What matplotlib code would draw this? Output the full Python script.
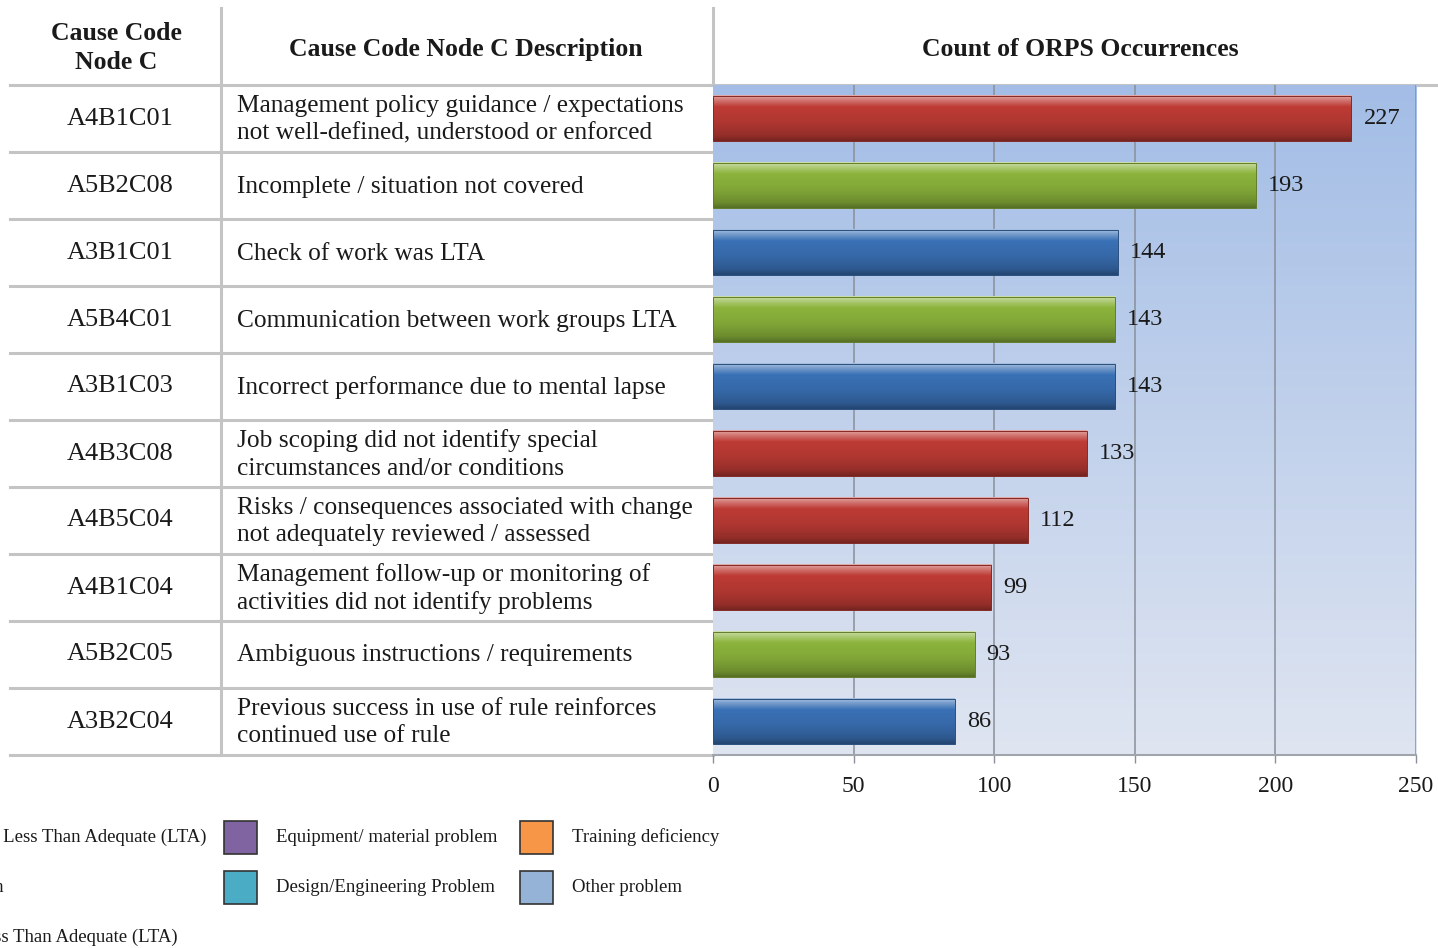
import numpy as np
import matplotlib.pyplot as plt
from matplotlib.colors import to_rgb
from matplotlib.patches import Rectangle

codes = ["A4B1C01", "A5B2C08", "A3B1C01", "A5B4C01", "A3B1C03",
         "A4B3C08", "A4B5C04", "A4B1C04", "A5B2C05", "A3B2C04"]
descriptions = [
    "Management policy guidance / expectations\nnot well-defined, understood or enforced",
    "Incomplete / situation not covered",
    "Check of work was LTA",
    "Communication between work groups LTA",
    "Incorrect performance due to mental lapse",
    "Job scoping did not identify special\ncircumstances and/or conditions",
    "Risks / consequences associated with change\nnot adequately reviewed / assessed",
    "Management follow-up or monitoring of\nactivities did not identify problems",
    "Ambiguous instructions / requirements",
    "Previous success in use of rule reinforces\ncontinued use of rule",
]
counts = [227, 193, 144, 143, 143, 133, 112, 99, 93, 86]
groups = ["mgmt", "comm", "human", "comm", "human",
          "mgmt", "mgmt", "mgmt", "comm", "human"]
xticks = [0, 50, 100, 150, 200, 250]

group_colors = {"mgmt": "#be3b35", "comm": "#8cb43c", "human": "#3a71b6"}

legend_left = [("Human Performance Less Than Adequate (LTA)", 207),
               ("Management Problem", 4),
               ("Communications Less Than Adequate (LTA)", 178)]
legend_boxes = [("Equipment/ material problem", "#8064a2"),
                ("Design/Engineering Problem", "#4bacc6"),
                ("Training deficiency", "#f79646"),
                ("Other problem", "#95b3d7")]

W, H = 1438, 948
SERIF = ["Liberation Serif", "DejaVu Serif"]
plt.rcParams["font.family"] = SERIF

fig = plt.figure(figsize=(W / 100, H / 100), dpi=100)

# full-figure axes in pixel units for the table and legend
base = fig.add_axes([0, 0, 1, 1])
base.set_xlim(0, W)
base.set_ylim(H, 0)
base.axis("off")

# chart area placement (pixels)
cx0, cx1, cy0, cy1 = 713, 1416, 85, 755
row_h = (cy1 - cy0) / len(codes)

line_col = "#c4c4c4"
base.plot([10, W], [cy0, cy0], color=line_col, lw=2.2, zorder=1)
for k in range(1, len(codes) + 1):
    y = cy0 + k * row_h
    base.plot([10, cx0], [y, y], color=line_col, lw=2.2, zorder=1)
base.plot([221, 221], [8, cy1], color=line_col, lw=2.2, zorder=1)
base.plot([cx0, cx0], [8, cy0], color=line_col, lw=2.2, zorder=1)

# header
txt = "#1a1a1a"
base.text(116, 48, "Cause Code\nNode C", ha="center", va="center",
          fontsize=18.5, fontweight="bold", linespacing=1.32, color=txt)
base.text(466, 49, "Cause Code Node C Description", ha="center", va="center",
          fontsize=18.5, fontweight="bold", color=txt)
base.text(1080, 49, "Count of ORPS Occurrences", ha="center", va="center",
          fontsize=18.5, fontweight="bold", color=txt)

for k, (code, desc) in enumerate(zip(codes, descriptions)):
    yc = cy0 + (k + 0.5) * row_h
    base.text(120, yc, code, ha="center", va="center", fontsize=19,
              color=txt)
    base.text(237, yc + 1, desc, ha="left", va="center", fontsize=18.3,
              linespacing=1.33, color=txt)

# legend
rows_y = [837, 887, 937]
for (label, xr), y in zip(legend_left, rows_y):
    base.text(xr, y, label, ha="right", va="center", fontsize=13.5,
              color=txt)
for j, (label, col) in enumerate(legend_boxes):
    bx = 224 if j < 2 else 520
    y = rows_y[j % 2]
    base.add_patch(Rectangle((bx, y - 16), 33, 33, facecolor=col,
                             edgecolor="#333333", lw=1.2))
    base.text(bx + 52, y, label, ha="left", va="center", fontsize=13.5,
              color=txt)

# bar chart
ax = fig.add_axes([cx0 / W, 1 - cy1 / H, (cx1 - cx0) / W, (cy1 - cy0) / H])
n = len(counts)
ymin, ymax = n - 0.5, -0.5

bg = np.linspace(0, 1, 200)[:, None, None]
top_c = np.array(to_rgb("#a3bde6"))
bot_c = np.array(to_rgb("#dfe5f1"))
ax.imshow(top_c + (bot_c - top_c) * bg, extent=[0, 250, ymin, ymax],
          aspect="auto", zorder=0)

for t in xticks[1:]:
    ax.axvline(t, color="#8a8f99", lw=1.1, zorder=1)

bar_h = 0.68
stops = np.array([0.0, 0.1, 0.25, 0.6, 0.88, 1.0])
shade = np.array([1.45, 1.25, 1.0, 0.92, 0.78, 0.62])
pos = np.linspace(0, 1, 60)
for i, (v, g) in enumerate(zip(counts, groups)):
    base_rgb = np.array(to_rgb(group_colors[g]))
    f = np.interp(pos, stops, shade)[:, None]
    rgb = np.where(f > 1, base_rgb + (1 - base_rgb) * (f - 1) / 0.8,
                   base_rgb * f)
    ax.imshow(np.clip(rgb, 0, 1)[:, None, :],
              extent=[0, v, i + bar_h / 2, i - bar_h / 2],
              aspect="auto", zorder=3)
    ax.add_patch(Rectangle((0, i - bar_h / 2), v, bar_h, fill=False,
                           edgecolor=base_rgb * 0.7, lw=0.7, zorder=4))
    ax.text(v + 4.3, i, str(v), ha="left", va="center", fontsize=17.5,
            color=txt, zorder=5)

ax.set_xlim(0, 250)
ax.set_ylim(ymin, ymax)
ax.set_xticks(xticks)
ax.set_yticks([])
ax.tick_params(axis="x", length=6, width=1, color="#8a8f99", pad=9,
               labelsize=17, labelcolor=txt)
for side in ["top", "left", "right"]:
    ax.spines[side].set_visible(False)
ax.spines["bottom"].set_color("#a0a4ab")
ax.spines["bottom"].set_linewidth(1.5)

fig.savefig("out.png", dpi=100)
